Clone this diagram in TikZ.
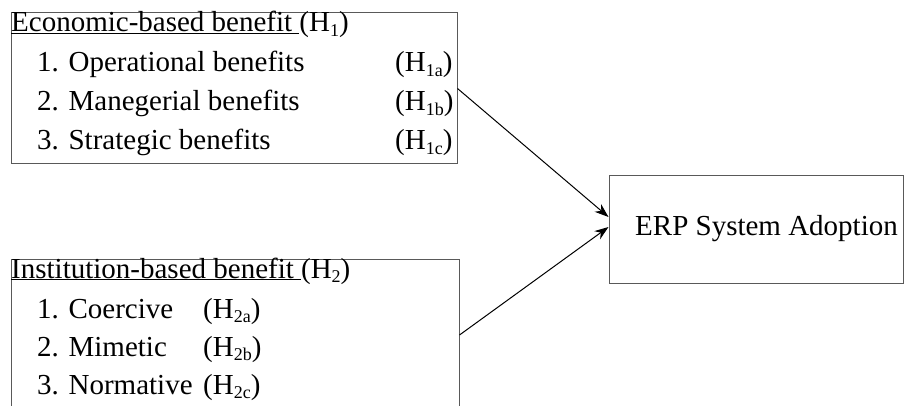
\documentclass[tikz,border=0pt]{standalone}
\usepackage{fontspec}
\setmainfont{Liberation Serif}
\usetikzlibrary{arrows.meta}
\newcommand\hsub[1]{\raisebox{-4.5pt}{\fontsize{18}{18}\selectfont #1}}
\begin{document}
\begin{tikzpicture}[x=1pt, y=-1pt, font=\fontsize{29}{39}\selectfont,
  box/.style={draw=black!65, line width=1pt, inner sep=0},
  txt/.style={anchor=base west, inner sep=0},
  >={Stealth[length=14pt, width=10pt]}]
  \useasboundingbox (0,0) rectangle (904,406);
  % the three boxes
  \node[box, minimum width=446, minimum height=151] (eco) at (234,88.5) {};
  \node[box, minimum width=448, minimum height=152] (ins) at (235,335) {};
  \node[box, minimum width=294, minimum height=107] (erp) at (756,229.5) {};
  % economic-based benefit
  \node[txt] (ecoh) at (11,32) {\underline{Economic-based benefit }(H\hsub{1})};
  \node[txt] (eco1) at (37,72) {1. Operational benefits};
  \node[txt] (eco2) at (37,111) {2. Manegerial benefits};
  \node[txt] (eco3) at (37,150) {3. Strategic benefits};
  \node[txt] (eco1h) at (395,72) {(H\hsub{1a})};
  \node[txt] (eco2h) at (395,111) {(H\hsub{1b})};
  \node[txt] (eco3h) at (395,150) {(H\hsub{1c})};
  % institution-based benefit
  \node[txt] (insh) at (11,278) {\underline{Institution-based benefit }(H\hsub{2})};
  \node[txt] (ins1) at (37,318) {1. Coercive};
  \node[txt] (ins2) at (37,356) {2. Mimetic};
  \node[txt] (ins3) at (37,394) {3. Normative};
  \node[txt] (ins1h) at (203,318) {(H\hsub{2a})};
  \node[txt] (ins2h) at (203,356) {(H\hsub{2b})};
  \node[txt] (ins3h) at (203,394) {(H\hsub{2c})};
  % adoption
  \node[txt] (erpt) at (635,235) {ERP System Adoption};
  \draw[->, line width=1pt] (eco.east) -- ([yshift=12.5pt]erp.west);
  \draw[->, line width=1pt] (ins.east) -- ([yshift=2.5pt]erp.west);
\end{tikzpicture}
\end{document}
